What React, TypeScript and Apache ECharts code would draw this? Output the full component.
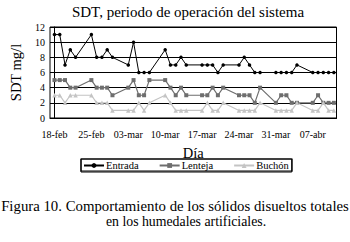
import React, { useEffect, useRef } from "react";
import * as echarts from "echarts";

const dates = [
  "2008-02-18", "2008-02-19", "2008-02-20", "2008-02-21", "2008-02-22",
  "2008-02-25", "2008-02-26", "2008-02-27", "2008-02-28", "2008-02-29",
  "2008-03-03", "2008-03-04", "2008-03-05", "2008-03-06", "2008-03-07",
  "2008-03-10", "2008-03-11", "2008-03-12", "2008-03-13", "2008-03-14",
  "2008-03-17", "2008-03-18", "2008-03-19", "2008-03-20", "2008-03-21",
  "2008-03-24", "2008-03-25", "2008-03-26", "2008-03-27", "2008-03-28",
  "2008-03-31", "2008-04-01", "2008-04-02", "2008-04-03", "2008-04-04",
  "2008-04-07", "2008-04-08", "2008-04-09", "2008-04-10", "2008-04-11",
];

const entrada = [11, 11, 7, 9, 8, 11, 8, 8, 9, 8, 7, 10, 6, 6, 6, 9, 7, 7, 8, 7, 7, 7, 7, 6, 7, 7, 8, 7, 6, 6, 6, 6, 6, 6, 7, 6, 6, 6, 6, 6];
const lenteja = [5, 5, 5, 4, 4, 5, 4, 4, 4, 3, 4, 5, 3, 3, 5, 5, 4, 3, 4, 3, 3, 3, 4, 3, 4, 3, 3, 3, 2, 4, 2, 3, 3, 2, 2, 2, 3, 2, 2, 2];
const buchon = [3, 3, 2, 3, 3, 3, 2, 2, 2, 1, 1, 1, 2, 1, 2, 3, 2, 1, 1, 1, 1, 2, 1, 1, 2, 1, 1, 1, 1, 2, 1, 1, 1, 1, 2, 1, 1, 2, 1, 1];

const tickDates = ["2008-02-18", "2008-02-25", "2008-03-03", "2008-03-10", "2008-03-17", "2008-03-24", "2008-03-31", "2008-04-07"];
const tickLabels = ["18-feb", "25-feb", "03-mar", "10-mar", "17-mar", "24-mar", "31-mar", "07-abr"];

const title = "SDT, periodo de operación del sistema";
const captionLines = ["Figura 10. Comportamiento de los sólidos disueltos totales", "en los humedales artificiales."];

const DAY = 86400000;
const start = Date.parse(dates[0]);
const dayOf = (d: string) => Math.round((Date.parse(d) - start) / DAY);

const FONT = "'Liberation Serif', 'Times New Roman', serif";

export default function App() {
  const ref = useRef<HTMLDivElement>(null);
  useEffect(() => {
    document.body.style.margin = "0";
    const chart = echarts.init(ref.current!, null, { renderer: "svg" });
    const xs = dates.map(dayOf);
    const tickDays = tickDates.map(dayOf);
    const mk = (arr: number[]) => arr.map((v, i) => [xs[i], v]);
    chart.setOption({
      animation: false,
      backgroundColor: "#fff",
      textStyle: { fontFamily: FONT, color: "#000" },
      graphic: {
        elements: [
          {
            type: "text",
            x: 188,
            y: 12,
            style: { text: title, font: `15px ${FONT}`, fill: "#000", align: "center", verticalAlign: "middle" },
          },
          {
            type: "rect",
            z: 100,
            silent: true,
            shape: { x: 81, y: 159, width: 211, height: 12 },
            style: { stroke: "#000", lineWidth: 1.2, fill: "rgba(255,255,255,0)" },
          },
          {
            type: "text",
            x: 175,
            y: 206,
            style: { text: captionLines[0], font: `14.8px ${FONT}`, fill: "#000", align: "center", verticalAlign: "middle" },
          },
          {
            type: "text",
            x: 186,
            y: 221,
            style: { text: captionLines[1], font: `13.8px ${FONT}`, fill: "#000", align: "center", verticalAlign: "middle" },
          },
        ],
      },
      legend: {
        left: 81,
        top: 159,
        itemWidth: 20,
        itemHeight: 6,
        itemGap: 20,
        padding: [1, 3, 1, 2],
        borderColor: "#000",
        borderWidth: 1,
        textStyle: { fontFamily: FONT, fontSize: 10.5, color: "#000", padding: [0, 0, 0, -3] },
        data: ["Entrada", "Lenteja", "Buchón"],
      },
      grid: {
        left: 41.5,
        right: 13.5,
        top: 27,
        bottom: 124,
        show: true,
        borderColor: "#000",
        borderWidth: 1,
      },
      xAxis: {
        type: "value",
        min: -0.85,
        max: 53.5,
        name: "Día",
        nameLocation: "middle",
        nameGap: 27,
        nameTextStyle: { fontFamily: FONT, fontSize: 14.5, color: "#000" },
        axisLine: { show: true, lineStyle: { color: "#000", width: 1 } },
        axisTick: { show: false },
        splitLine: { show: false },
        axisLabel: {
          customValues: tickDays,
          formatter: (v: number) => {
            const i = tickDays.indexOf(Math.round(v));
            return i >= 0 ? tickLabels[i] : "";
          },
          fontFamily: FONT,
          fontSize: 10,
          color: "#000",
          margin: 11,
        },
      },
      yAxis: {
        type: "value",
        min: 0,
        max: 12,
        interval: 2,
        name: "SDT mg/l",
        nameLocation: "middle",
        nameGap: 27,
        nameTextStyle: { fontFamily: FONT, fontSize: 14.5, color: "#000" },
        axisLine: { show: true, lineStyle: { color: "#000", width: 1 } },
        axisTick: { show: true, length: 3, lineStyle: { color: "#000" } },
        splitLine: { show: true, lineStyle: { color: "#000", width: 1 } },
        axisLabel: { fontFamily: FONT, fontSize: 10, color: "#000", margin: 5 },
      },
      series: [
        {
          name: "Entrada",
          type: "line",
          data: mk(entrada),
          symbol: "circle",
          symbolSize: 3.5,
          lineStyle: { color: "#000", width: 1 },
          itemStyle: { color: "#000" },
        },
        {
          name: "Lenteja",
          type: "line",
          data: mk(lenteja),
          symbol: "rect",
          symbolSize: 4,
          lineStyle: { color: "#6e6e6e", width: 1.2 },
          itemStyle: { color: "#6e6e6e" },
        },
        {
          name: "Buchón",
          type: "line",
          data: mk(buchon),
          symbol: "triangle",
          symbolSize: 4.5,
          lineStyle: { color: "#c4c4c4", width: 1.2 },
          itemStyle: { color: "#c4c4c4" },
        },
      ],
    });
    return () => chart.dispose();
  }, []);
  return <div ref={ref} style={{ width: 350, height: 242 }} />;
}
